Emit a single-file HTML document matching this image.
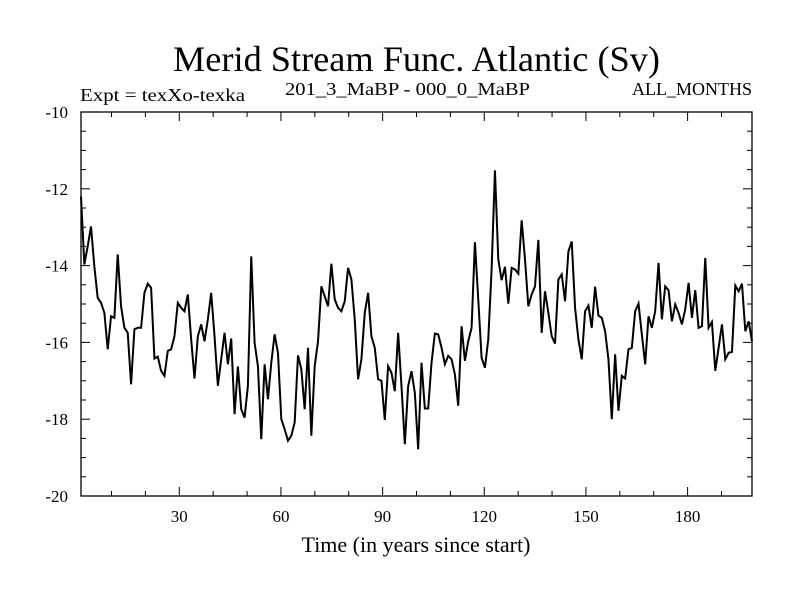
<!DOCTYPE html>
<html><head><meta charset="utf-8"><style>
html,body{margin:0;padding:0;background:#fff;}
svg{display:block;font-family:"Liberation Serif",serif;}
</style></head><body>
<svg id="chart" width="800" height="600" viewBox="0 0 800 600" xmlns="http://www.w3.org/2000/svg">
<rect width="800" height="600" fill="#fff"/>
<text x="173" y="71" font-size="36" textLength="487" lengthAdjust="spacingAndGlyphs">Merid Stream Func. Atlantic (Sv)</text>
<text x="80" y="101" font-size="18" textLength="165" lengthAdjust="spacingAndGlyphs">Expt = texXo-texka</text>
<text x="285" y="95" font-size="18" textLength="245" lengthAdjust="spacingAndGlyphs">201_3_MaBP - 000_0_MaBP</text>
<text x="752" y="95" font-size="18" text-anchor="end">ALL_MONTHS</text>
<text x="416" y="552" font-size="22" text-anchor="middle">Time (in years since start)</text>
<g id="axes"></g>
<g id="series"></g>
</svg>
<script>
const yTicks = [-10,-12,-14,-16,-18,-20];
const xTicks = [30,60,90,120,150,180];
const tStart = 1, tEnd = 199;
const values = [
-12.20,-13.97,-13.50,-12.98,-14.02,-14.84,-14.97,-15.23,-16.18,-15.32,-15.36,-13.71,-15.06,-15.62,-15.75,-17.09,-15.66,-15.62,-15.62,-14.71,
-14.47,-14.58,-16.42,-16.37,-16.74,-16.87,-16.22,-16.18,-15.84,-14.97,-15.10,-15.19,-14.75,-15.92,-16.94,-15.84,-15.53,-15.97,-15.40,-14.71,
-15.84,-17.13,-16.44,-15.75,-16.57,-15.90,-17.87,-16.63,-17.74,-17.96,-17.13,-13.76,-16.01,-16.62,-18.52,-16.57,-17.48,-16.53,-15.79,-16.27,
-18.00,-18.26,-18.56,-18.43,-18.09,-16.34,-16.70,-17.74,-16.14,-18.43,-16.62,
-15.97,-14.54,-14.80,-15.06,-13.95,-14.88,-15.10,-15.19,-14.93,-14.06,-14.36,-15.40,-16.96,-16.44,-15.23,-14.71,-15.84,-16.14,-16.96,-17.00,
-18.02,-16.62,-16.79,-17.27,-15.75,-17.14,-18.65,-17.14,-16.75,-17.31,-18.78,-16.53,-17.72,-17.72,-16.53,-15.77,-15.79,-16.14,-16.57,-16.35,
-16.44,-16.83,-17.65,-15.58,-16.48,-15.97,-15.62,-13.39,-14.88,-16.40,-16.66,-15.92,-14.10,-11.52,-13.84,-14.38,-14.03,-14.99,-14.06,-14.10,
-14.21,-12.82,-13.84,-15.06,-14.75,-14.54,-13.33,-15.75,
-14.67,-15.23,-15.84,-16.03,-14.36,-14.23,-14.93,-13.63,-13.37,-15.10,-15.92,-16.44,-15.19,-15.04,-15.62,-14.55,-15.30,-15.36,-15.71,-16.44,
-18.00,-16.31,-17.78,-16.87,-16.94,-16.18,-16.14,-15.19,-14.99,-15.79,-16.57,-15.32,-15.62,-15.19,-13.93,-15.40,-14.54,-14.64,-15.45,-15.01,
-15.23,-15.53,-15.14,-14.45,-15.36,-14.64,-15.62,-15.58,-13.80,-15.62,-15.47,-16.74,-16.14,-15.53,-16.44,-16.27,-16.25,-14.52,-14.67,-14.47,
-15.71,-15.45,-15.97
];
const years = values.map((v,i)=>tStart + i*(tEnd-tStart)/(values.length-1));

const L=81,R=752,T=112,B=496;
const xDomain=[1,199], yDomain=[-20,-10];
function xs(t){return L+(t-xDomain[0])/(xDomain[1]-xDomain[0])*(R-L);}
function ys(v){return B-(v-yDomain[0])/(yDomain[1]-yDomain[0])*(B-T);}
const NS="http://www.w3.org/2000/svg";
const axes=document.getElementById('axes');
function mk(tag,attrs,parent){const e=document.createElementNS(NS,tag);for(const k in attrs)e.setAttribute(k,attrs[k]);parent.appendChild(e);return e;}

const frame=mk('rect',{x:L,y:T,width:R-L,height:B-T,fill:'none',stroke:'#000','stroke-width':1.3},axes);



// y ticks minor every 0.5
for(let v=yDomain[0]; v<=yDomain[1]+1e-9; v+=0.5){
  const major=Math.abs(v-Math.round(v/2)*2)<1e-9;
  const len=major?9:5;
  const y=ys(v);
  const tl=mk('line',{x1:L,x2:L+len,y1:y,y2:y,stroke:'#000','stroke-width':1},axes);
  
  
  const tr=mk('line',{x1:R,x2:R-len,y1:y,y2:y,stroke:'#000','stroke-width':1},axes);
  
  
}
yTicks.forEach(v=>{
  const t=mk('text',{x:68,y:ys(v)+6,'font-size':17,'text-anchor':'end'},axes);
  t.textContent=String(v);
  
  
});
// x ticks minor every 10
for(let t=10; t<xDomain[1]; t+=10){
  const major=t%30===0;
  const len=major?9:5;
  const x=xs(t);
  const tb=mk('line',{x1:x,x2:x,y1:B,y2:B-len,stroke:'#000','stroke-width':1},axes);
  
  
  const tt=mk('line',{x1:x,x2:x,y1:T,y2:T+len,stroke:'#000','stroke-width':1},axes);
  
  
}
xTicks.forEach(t=>{
  const e=mk('text',{x:xs(t),y:522,'font-size':17,'text-anchor':'middle'},axes);
  e.textContent=String(t);
  
  
});

const d=values.map((v,i)=>(i?'L':'M')+xs(years[i]).toFixed(2)+' '+ys(v).toFixed(2)).join(' ');
const line=mk('path',{d:d,fill:'none',stroke:'#000','stroke-width':2,'stroke-linejoin':'miter'},document.getElementById('series'));


</script>
</body></html>
